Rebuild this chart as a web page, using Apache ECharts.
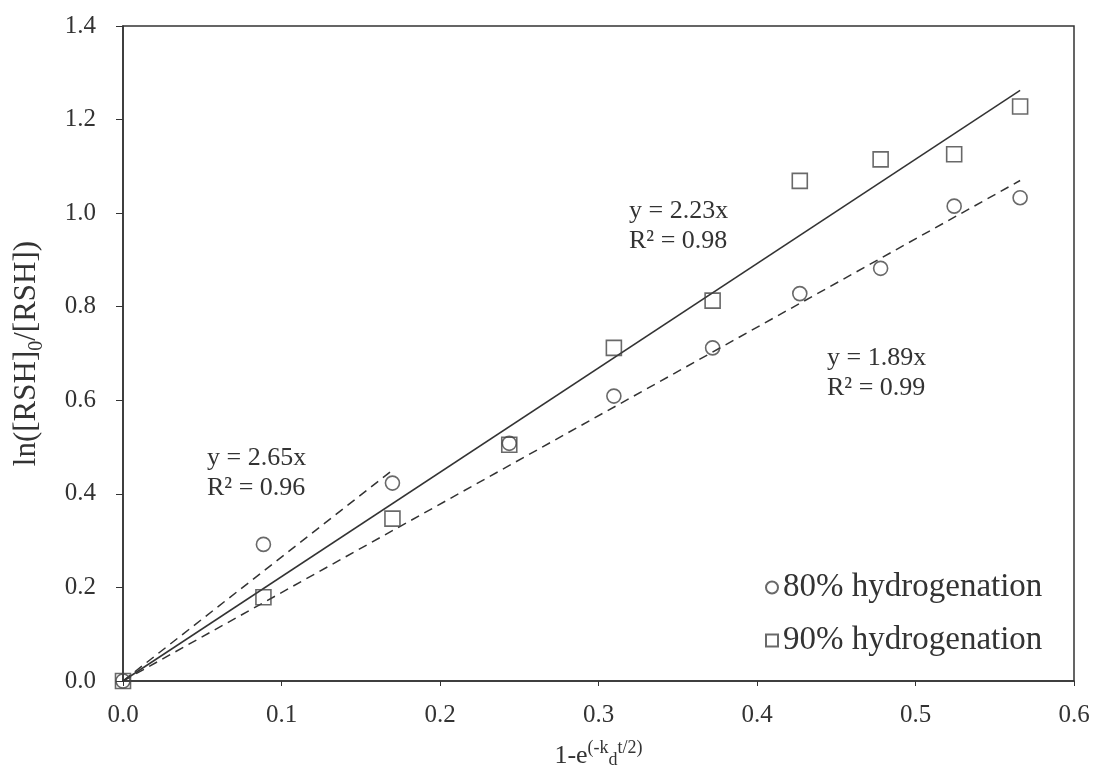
<html>
<head>
<meta charset="UTF-8">
<script src="https://cdn.jsdelivr.net/npm/echarts@6/dist/echarts.min.js"></script>
</head>
<body style="margin:0;background:#fff">
<div id="chart" style="width:1093px;height:774px"></div>
<script>
    // measured points
    var xVals = [0, 0.0886, 0.170, 0.2437, 0.3097, 0.372, 0.427, 0.478, 0.5244, 0.566];
    var y80 = [0, 0.292, 0.423, 0.508, 0.609, 0.712, 0.828, 0.882, 1.015, 1.033];
    var y90 = [0, 0.179, 0.347, 0.505, 0.712, 0.813, 1.069, 1.115, 1.126, 1.228];
    // fitted lines y = k*x
    var fitSlope = [2.65, 2.23, 1.89];
    var fitXEnd = [0.17, 0.566, 0.566];
    var fitR2 = ['0.96', '0.98', '0.99'];
    var fitDashed = [true, false, true];
    var xTicks = [0, 0.1, 0.2, 0.3, 0.4, 0.5, 0.6];
    var yTicks = [0, 0.2, 0.4, 0.6, 0.8, 1.0, 1.2, 1.4];

    var FONT = '"Liberation Serif", "Times New Roman", serif';
    var INK = '#333';

    function pairs(xs, ys) {
        var out = [];
        for (var i = 0; i < xs.length; i++) out.push([xs[i], ys[i]]);
        return out;
    }

    var series = [];
    for (var i = 0; i < fitSlope.length; i++) {
        series.push({
            name: 'fit' + i,
            type: 'line',
            data: [[0, 0], [fitXEnd[i], fitSlope[i] * fitXEnd[i]]],
            showSymbol: false,
            silent: true,
            lineStyle: {color: INK, width: 1.5, type: fitDashed[i] ? [9, 6] : 'solid'},
            z: 2
        });
    }
    series.push({
        name: '80% hydrogenation',
        type: 'scatter',
        symbol: 'circle',
        symbolSize: 14,
        data: pairs(xVals, y80),
        itemStyle: {color: 'rgba(0,0,0,0)', borderColor: '#444', borderWidth: 1.6},
        z: 3
    });
    series.push({
        name: '90% hydrogenation',
        type: 'scatter',
        symbol: 'rect',
        symbolSize: 15,
        data: pairs(xVals, y90),
        itemStyle: {color: 'rgba(0,0,0,0)', borderColor: '#444', borderWidth: 1.6},
        z: 3
    });

    // equation labels: [left, centre of first line]
    var eqPos = [[207, 459], [629, 212], [827, 359]];
    var graphics = [];
    for (var j = 0; j < fitSlope.length; j++) {
        graphics.push({
            type: 'text', left: eqPos[j][0], top: eqPos[j][1] - 14,
            style: {text: 'y = ' + fitSlope[j].toFixed(2) + 'x', font: '26px ' + FONT, fill: INK}
        });
        graphics.push({
            type: 'text', left: eqPos[j][0], top: eqPos[j][1] + 16,
            style: {text: 'R² = ' + fitR2[j], font: '26px ' + FONT, fill: INK}
        });
    }

    var chart = echarts.init(document.getElementById('chart'));
    chart.setOption({
        animation: false,
        backgroundColor: '#fff',
        grid: {left: 123, right: 19, top: 26, bottom: 91, show: true, borderColor: INK, borderWidth: 1.5},
        legend: {
            data: ['80% hydrogenation', '90% hydrogenation'],
            orient: 'vertical',
            left: 760,
            top: 566,
            itemGap: 20,
            itemWidth: 12,
            itemHeight: 12,
            textStyle: {fontFamily: FONT, fontSize: 33, color: INK}
        },
        xAxis: {
            type: 'value',
            min: xTicks[0],
            max: xTicks[xTicks.length - 1],
            interval: 0.1,
            splitLine: {show: false},
            axisLine: {lineStyle: {color: INK, width: 1.5}},
            axisTick: {show: true, inside: false, length: 5, lineStyle: {color: INK}},
            axisLabel: {
                margin: 22, fontFamily: FONT, fontSize: 25, color: INK,
                formatter: function (v) { return v.toFixed(1); }
            },
            name: '{n|1-e}{s|(-k}{d|d}{s|t/2)}',
            nameLocation: 'middle',
            nameGap: 58,
            nameTextStyle: {
                rich: {
                    n: {fontFamily: FONT, fontSize: 26, color: INK, verticalAlign: 'bottom', lineHeight: 30},
                    s: {fontFamily: FONT, fontSize: 18, color: INK, verticalAlign: 'top', lineHeight: 30},
                    d: {fontFamily: FONT, fontSize: 18, color: INK, verticalAlign: 'bottom', lineHeight: 26}
                }
            }
        },
        yAxis: {
            type: 'value',
            min: yTicks[0],
            max: yTicks[yTicks.length - 1],
            interval: 0.2,
            splitLine: {show: false},
            axisLine: {lineStyle: {color: INK, width: 1.5}},
            axisTick: {show: true, inside: false, length: 7, lineStyle: {color: INK}},
            axisLabel: {
                margin: 27, fontFamily: FONT, fontSize: 25, color: INK,
                formatter: function (v) { return v.toFixed(1); }
            },
            name: '{n|ln([RSH]}{b|0}{n|/[RSH])}',
            nameLocation: 'middle',
            nameGap: 76,
            nameRotate: 90,
            nameTextStyle: {
                rich: {
                    n: {fontFamily: FONT, fontSize: 31, color: INK, verticalAlign: 'top', lineHeight: 36},
                    b: {fontFamily: FONT, fontSize: 20, color: INK, verticalAlign: 'bottom', lineHeight: 36}
                }
            }
        },
        graphic: graphics,
        series: series
    });
</script>
</body>
</html>
